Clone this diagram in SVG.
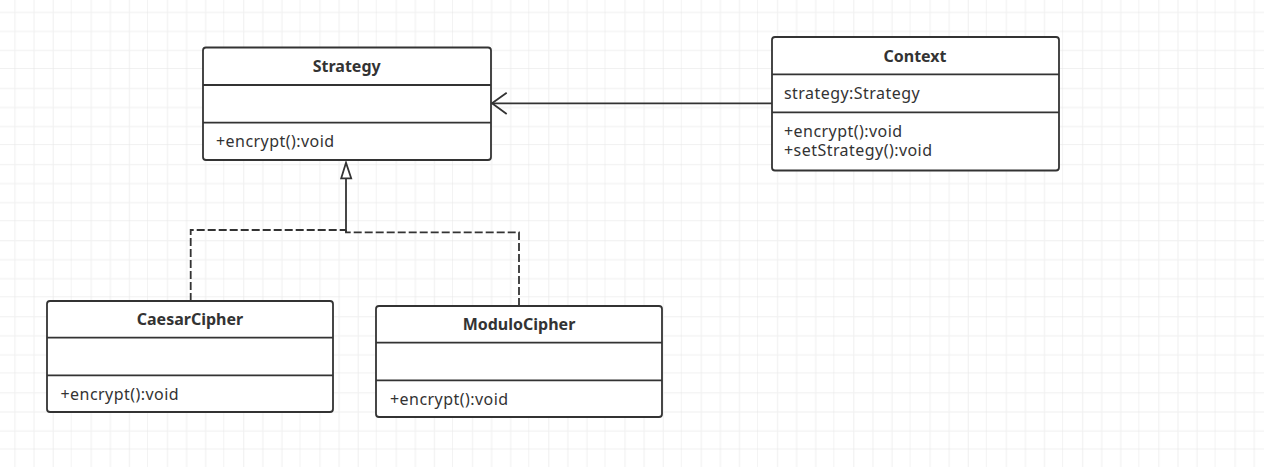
<svg xmlns="http://www.w3.org/2000/svg" width="1264" height="467" viewBox="0 0 1264 467">
  <defs>
    <pattern id="grid" patternUnits="userSpaceOnUse" x="-4.56" y="-7.1" width="76.26" height="76.1">
      <rect x="19.065" y="0" width="1" height="76.1" fill="#f0f0f0"/>
      <rect x="38.13" y="0" width="1" height="76.1" fill="#f0f0f0"/>
      <rect x="57.195" y="0" width="1" height="76.1" fill="#f0f0f0"/>
      <rect x="0" y="19.025" width="76.26" height="1" fill="#f0f0f0"/>
      <rect x="0" y="38.05" width="76.26" height="1" fill="#f0f0f0"/>
      <rect x="0" y="57.075" width="76.26" height="1" fill="#f0f0f0"/>
      <rect x="75.8" y="0" width="1.2" height="76.1" fill="#e4e4e4"/>
      <rect x="0" y="75.6" width="76.26" height="1.2" fill="#e4e4e4"/>
    </pattern>
    <style>
      .box { fill: #ffffff; stroke: #333333; stroke-width: 1.8; }
      .div { stroke: #333333; stroke-width: 1.8; fill: none; }
      .title { font-family: "Noto Sans", "Liberation Sans", sans-serif; font-size: 16px; font-weight: bold; fill: #333333; text-anchor: middle; }
      .member { font-family: "Noto Sans", "Liberation Sans", sans-serif; font-size: 16px; letter-spacing: 0.45px; fill: #333333; }
      .line { stroke: #333333; stroke-width: 1.8; fill: none; }
      .dash { stroke: #333333; stroke-width: 1.8; fill: none; stroke-dasharray: 8 3; }
    </style>
  </defs>
  <rect x="0" y="0" width="1264" height="467" fill="#ffffff"/>
  <rect x="0" y="0" width="1264" height="467" fill="url(#grid)"/>

  <g id="connectors">
    <path id="assoc" class="line" d="M772,103.3 L492,103.3"/>
    <path class="line" d="M506.7,92.7 L492,103.3 L506.7,114"/>
    <path id="real-caesar" class="dash" d="M190.7,301 V230 H346"/>
    <path id="real-modulo" class="dash" d="M519,306 V232.3 H346 V230"/>
    <path class="line" d="M346,232.3 V178"/>
    <polygon class="line" points="346,162.7 341.2,178.3 351.2,178.3" style="fill:#ffffff"/>
  </g>

  <g id="strategy">
    <rect class="box" x="203" y="47.5" width="288" height="112.5" rx="3"/>
    <line class="div" x1="203" y1="85" x2="491" y2="85"/>
    <line class="div" x1="203" y1="122.7" x2="491" y2="122.7"/>
    <text class="title" x="346.7" y="72">Strategy</text>
    <text class="member" x="216" y="146.5">+encrypt():void</text>
  </g>

  <g id="context">
    <rect class="box" x="772" y="37" width="287" height="133.5" rx="3"/>
    <line class="div" x1="772" y1="74.3" x2="1059" y2="74.3"/>
    <line class="div" x1="772" y1="112.3" x2="1059" y2="112.3"/>
    <text class="title" x="915" y="61.5">Context</text>
    <text class="member" x="784" y="99">strategy:Strategy</text>
    <text class="member" x="784" y="136.5">+encrypt():void</text>
    <text class="member" x="784" y="156">+setStrategy():void</text>
  </g>

  <g id="caesarcipher">
    <rect class="box" x="47" y="301" width="286" height="111" rx="3"/>
    <line class="div" x1="47" y1="337.7" x2="333" y2="337.7"/>
    <line class="div" x1="47" y1="375.3" x2="333" y2="375.3"/>
    <text class="title" x="190" y="325">CaesarCipher</text>
    <text class="member" x="60.5" y="400">+encrypt():void</text>
  </g>

  <g id="modulocipher">
    <rect class="box" x="376" y="306" width="286" height="111" rx="3"/>
    <line class="div" x1="376" y1="342.7" x2="662" y2="342.7"/>
    <line class="div" x1="376" y1="380.3" x2="662" y2="380.3"/>
    <text class="title" x="519" y="330">ModuloCipher</text>
    <text class="member" x="390" y="405">+encrypt():void</text>
  </g>
</svg>
